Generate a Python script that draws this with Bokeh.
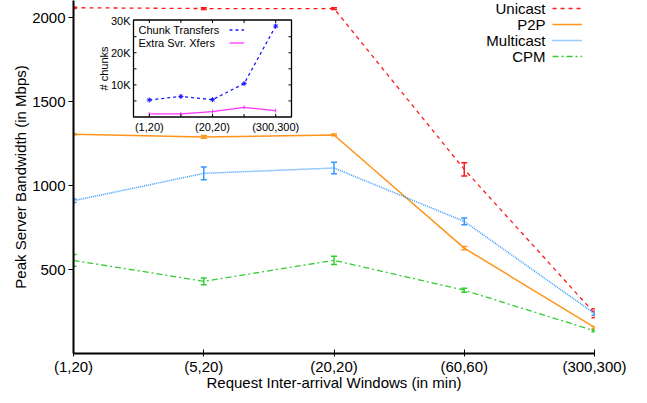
import math
from bokeh.plotting import figure
from bokeh.models import (Range1d, FixedTicker, Whisker, ColumnDataSource, Legend,
                          LegendItem, Label)
from bokeh.core.properties import value
from bokeh.embed import file_html
from bokeh.resources import INLINE

# ---------------- data ----------------
windows = ["(1,20)", "(5,20)", "(20,20)", "(60,60)", "(300,300)"]
unicast = [2060, 2055, 2055, 1097, 240]
unicast_err = [5, 5, 5, 40, 27]
p2p = [1306, 1290, 1302, 628, 155]
p2p_err = [5, 8, 5, 10, 6]
multicast = [910, 1073, 1105, 787, 238]
multicast_err = [10, 38, 34, 20, 10]
cpm = [555, 430, 555, 377, 135]
cpm_err = [35, 20, 25, 12, 6]
y_ticks = [500, 1000, 1500, 2000]

chunk_transfers = [5300, 6400, 5400, 10400, 28300]
chunk_err = [300, 600, 300, 500, 700]
extra_xfers = [1000, 1000, 1700, 3000, 2000]
inset_xtick_idx = [0, 2, 4]
inset_yticks = [10000, 20000, 30000]
inset_ytick_labels = ["10K", "20K", "30K"]
inset_minor_yticks = [5000, 10000, 15000, 20000, 25000]

FONT = "Liberation Sans"
idx = list(range(len(windows)))

# ---------------- layout constants (pixels) ----------------
FW, FH = 521, 353                     # main frame size
XR, YR = (0, 4), (0, 2103)            # main axis limits
INSET_X, INSET_Y = (-0.5, 4.5), (0, 30200)   # inset axis limits
# inset frame box, in pixels relative to the main frame's top-left corner
IL, IR, IT, IB = 60, 218, 19.5, 116.5

ix_per_px = (INSET_X[1] - INSET_X[0]) / (IR - IL)
iy_per_px = (INSET_Y[1] - INSET_Y[0]) / (IB - IT)
ix_range = Range1d(INSET_X[0] - IL * ix_per_px, INSET_X[1] + (FW - IR) * ix_per_px)
iy_range = Range1d(INSET_Y[0] - (FH - IB) * iy_per_px, INSET_Y[1] + IT * iy_per_px)


def main_y(px_from_top):
    return YR[1] - px_from_top * (YR[1] - YR[0]) / FH


def main_x(px_from_left):
    return XR[0] + px_from_left * (XR[1] - XR[0]) / FW


# ---------------- main figure ----------------
p = figure(frame_width=FW, frame_height=FH, x_range=Range1d(*XR), y_range=Range1d(*YR),
           output_backend="svg", toolbar_location=None,
           min_border_left=73, min_border_right=37, min_border_top=0, min_border_bottom=0)
p.outline_line_color = None
p.grid.visible = False
p.background_fill_color = "white"
p.extra_x_ranges = {"ix": ix_range}
p.extra_y_ranges = {"iy": iy_range}

series = [
    ("Unicast", unicast, unicast_err, "#ff1a1a", "4 4", 1.3),
    ("P2P", p2p, p2p_err, "#ff9419", "solid", 1.5),
    ("Multicast", multicast, multicast_err, "#3399ff", "1 1", 1.5),
    ("CPM", cpm, cpm_err, "#33cc33", "6 3 2 3", 1.3),
]

legend_items = []
for name, vals, errs, color, dash, lw in series:
    src = ColumnDataSource(dict(x=idx, y=vals,
                                lo=[v - e for v, e in zip(vals, errs)],
                                hi=[v + e for v, e in zip(vals, errs)]))
    r = p.line("x", "y", source=src, line_color=color, line_dash=dash, line_width=lw)
    w = Whisker(base="x", lower="lo", upper="hi", source=src, line_color=color, line_width=1.5)
    for h in (w.upper_head, w.lower_head):
        h.size = 6
        h.line_color = color
        h.line_width = 1.5
    p.add_layout(w)
    legend_items.append(LegendItem(label=" ", renderers=[r]))

# main legend: glyph samples on the right, names right-aligned before them
ROW = 16
LEG_TOP = 0
leg = Legend(items=legend_items, location=(479, FH - LEG_TOP - 4 * ROW), padding=0, margin=0,
             spacing=0, glyph_width=30, glyph_height=ROW, label_height=1, label_width=1,
             label_standoff=0, label_text_font_size="6px", border_line_color=None,
             background_fill_alpha=0)
p.add_layout(leg, "center")
for i, (name, *_) in enumerate(series):
    p.add_layout(Label(x=main_x(472), y=main_y(LEG_TOP + ROW * (i + 0.5)), text=name,
                       text_align="right", text_baseline="middle",
                       text_font=FONT, text_font_size="15px", text_color="black"))

p.xaxis.ticker = FixedTicker(ticks=idx)
p.xaxis.major_label_overrides = {i: l for i, l in enumerate(windows)}
p.yaxis.ticker = FixedTicker(ticks=y_ticks)
for ax in (p.xaxis, p.yaxis):
    ax.axis_line_width = 2
    ax.axis_line_color = "black"
    ax.major_tick_line_color = "black"
    ax.minor_tick_line_color = None
    ax.major_label_text_font = FONT
    ax.major_label_text_font_size = "15px"
    ax.major_label_text_color = "black"
    ax.axis_label_text_font = FONT
    ax.axis_label_text_font_size = "15px"
    ax.axis_label_text_font_style = "normal"
    ax.axis_label_text_color = "black"
p.xaxis.major_tick_in = 4
p.xaxis.major_tick_out = 3
p.yaxis.major_tick_in = 0
p.yaxis.major_tick_out = 5
p.xaxis.major_label_standoff = 1
p.yaxis.major_label_standoff = 3
p.xaxis.axis_label = "Request Inter-arrival Windows (in min)"
p.yaxis.axis_label = "Peak Server Bandwidth (in Mbps)"
p.xaxis.axis_label_standoff = -4
p.yaxis.axis_label_standoff = 0

# ---------------- inset (drawn on its own ranges) ----------------
IR_ = dict(x_range_name="ix", y_range_name="iy")
TF = dict(text_font=value(FONT), text_font_size="11px", text_color="black")
p.quad(left=[INSET_X[0]], right=[INSET_X[1]], bottom=[INSET_Y[0]], top=[INSET_Y[1]],
       fill_color="white", line_color="black", line_width=1.3, **IR_)

csrc = ColumnDataSource(dict(x=idx, y=chunk_transfers,
                             lo=[v - e for v, e in zip(chunk_transfers, chunk_err)],
                             hi=[v + e for v, e in zip(chunk_transfers, chunk_err)]))
esrc = ColumnDataSource(dict(x=idx, y=extra_xfers))
r1 = p.line("x", "y", source=csrc, line_color="#1a1aff", line_dash="3 3", line_width=1.3, **IR_)
p.scatter("x", "y", source=csrc, marker="asterisk", size=5, line_color="#1a1aff", **IR_)
p.segment(x0="x", x1="x", y0="lo", y1="hi", source=csrc, line_color="#1a1aff", **IR_)
r2 = p.line("x", "y", source=esrc, line_color="#ff33ff", line_width=1.3, **IR_)
p.scatter("x", "y", source=esrc, marker="dash", size=4, line_color="#ff33ff",
          angle=math.pi / 2, **IR_)

# inset ticks (mirrored, inward)
p.ray(x=[INSET_X[0]] * len(inset_minor_yticks), y=inset_minor_yticks, length=3,
      length_units="screen", angle=0, line_color="black", **IR_)
p.ray(x=[INSET_X[1]] * len(inset_minor_yticks), y=inset_minor_yticks, length=3,
      length_units="screen", angle=math.pi, line_color="black", **IR_)
p.ray(x=idx, y=[INSET_Y[0]] * len(idx), length=3, length_units="screen",
      angle=math.pi / 2, line_color="black", **IR_)
p.ray(x=idx, y=[INSET_Y[1]] * len(idx), length=3, length_units="screen",
      angle=-math.pi / 2, line_color="black", **IR_)

# inset tick labels and axis label
p.text(x=[INSET_X[0]] * len(inset_yticks), y=inset_yticks, text=inset_ytick_labels,
       x_offset=-3, text_align="right", text_baseline="middle", **TF, **IR_)
p.text(x=inset_xtick_idx, y=[INSET_Y[0]] * len(inset_xtick_idx),
       text=[windows[i] for i in inset_xtick_idx], y_offset=4, text_align="center",
       text_baseline="top", **TF, **IR_)
p.text(x=[INSET_X[0]], y=[(INSET_Y[0] + INSET_Y[1]) / 2], text=["# chunks"], x_offset=-30,
       angle=math.pi / 2, text_align="center", text_baseline="middle", **TF, **IR_)

# inset legend
IROW = 13
ILEG_TOP = 22.5
ileg = Legend(items=[LegendItem(label=" ", renderers=[r1]), LegendItem(label=" ", renderers=[r2])],
              location=(156, FH - ILEG_TOP - 2 * IROW), padding=0, margin=0, spacing=0,
              glyph_width=15, glyph_height=IROW, label_height=1, label_width=1,
              label_standoff=0, label_text_font_size="6px", border_line_color=None,
              background_fill_alpha=0)
p.add_layout(ileg, "center")
for i, txt in enumerate(["Chunk Transfers", "Extra Svr. Xfers"]):
    p.add_layout(Label(x=INSET_X[0] + 5 * ix_per_px,
                       y=INSET_Y[1] - (ILEG_TOP + IROW * (i + 0.5) - IT) * iy_per_px,
                       text=txt, text_align="left", text_baseline="middle",
                       x_range_name="ix", y_range_name="iy",
                       text_font=FONT, text_font_size="11px", text_color="black"))

with open("out.html", "w") as f:
    f.write(file_html(p, INLINE))
